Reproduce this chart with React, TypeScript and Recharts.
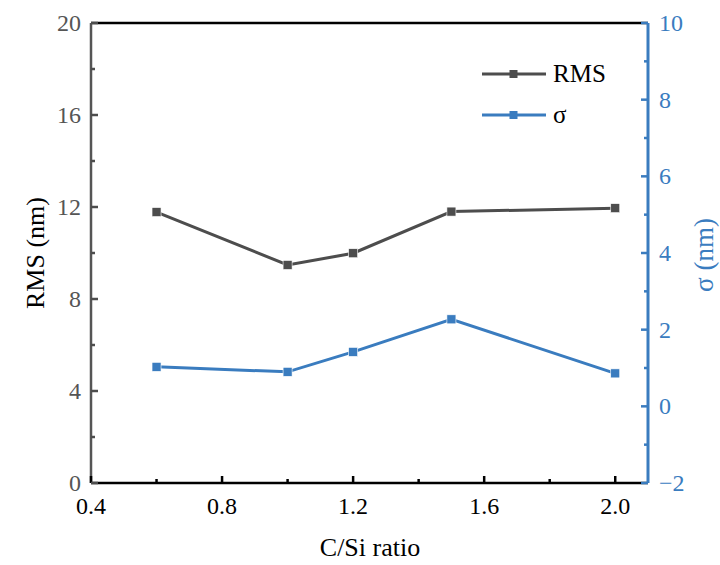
import { Label, Legend, Line, LineChart, ReferenceLine, XAxis, YAxis } from 'recharts'

// C/Si ratio values
const ratios = [0.6, 1.0, 1.2, 1.5, 2.0]
// RMS roughness (nm), left axis
const rms = [11.78, 9.48, 9.99, 11.8, 11.95]
// sigma (nm), right axis
const sigma = [1.03, 0.9, 1.42, 2.27, 0.86]

// tick values (majors get a label, the rest are minor ticks)
const xTicks = [0.4, 0.6, 0.8, 1.0, 1.2, 1.4, 1.6, 1.8, 2.0]
const leftTicks = [0, 2, 4, 6, 8, 10, 12, 14, 16, 18, 20]
const rightTicks = [-2, -1, 0, 1, 2, 3, 4, 5, 6, 7, 8, 9, 10]

const data = ratios.map((r, i) => ({ ratio: r, rms: rms[i], sigma: sigma[i] }))

const FONT = 'Liberation Serif'
const GRAY = '#4d4d4d'
const BLUE = '#3a7cbf'
const txt = (size: number) => ({ fontFamily: FONT, fontSize: size })

const isMajor = (v: number, step: number) => Math.abs(v / step - Math.round(v / step)) < 1e-6

const LeftTick = (p: any) => {
  const v = p.payload.value
  const major = isMajor(v, 4)
  return (
    <g>
      <line x1={p.x} y1={p.y} x2={p.x + (major ? 7 : 4)} y2={p.y} stroke={GRAY} strokeWidth={2.5} />
      {major && (
        <text x={p.x - 10} y={p.y + 8} textAnchor='end' fill='#555' style={txt(24)}>
          {v}
        </text>
      )}
    </g>
  )
}

const RightTick = (p: any) => {
  const v = p.payload.value
  const major = isMajor(v, 2)
  return (
    <g>
      <line x1={p.x} y1={p.y} x2={p.x - (major ? 7 : 4)} y2={p.y} stroke={BLUE} strokeWidth={2.5} />
      {major && (
        <text x={p.x + 11} y={p.y + 8} textAnchor='start' fill={BLUE} style={txt(24)}>
          {v < 0 ? `\u2212${Math.abs(v)}` : v}
        </text>
      )}
    </g>
  )
}

const BottomTick = (p: any) => {
  const v = p.payload.value
  const major = isMajor(v, 0.4)
  return (
    <g>
      <line x1={p.x} y1={p.y} x2={p.x} y2={p.y - (major ? 7 : 4)} stroke='#000' strokeWidth={2.5} />
      {major && (
        <text x={p.x} y={p.y + 31} textAnchor='middle' fill='#000' style={txt(24)}>
          {v.toFixed(1)}
        </text>
      )}
    </g>
  )
}

const squareDot = (color: string) => (p: any) => (
  <rect key={`dot-${p.index}`} x={p.cx - 4.5} y={p.cy - 4.5} width={9} height={9} fill={color} stroke='#fff' strokeWidth={0.6} />
)

const renderLegend = (props: any) => (
  <div style={txt(25)}>
    {props.payload.map((e: any, i: number) => (
      <div key={`leg-${i}`} style={{ display: 'flex', alignItems: 'center', height: 41 }}>
        <svg width={66} height={12}>
          <line x1={1} y1={6} x2={65} y2={6} stroke={e.color} strokeWidth={3} />
          <rect x={28.5} y={2} width={8} height={8} fill={e.color} />
        </svg>
        <span style={{ marginLeft: 6, color: '#000', fontFamily: FONT }}>{e.value}</span>
      </div>
    ))}
  </div>
)

export default function App() {
  return (
    <div style={{ position: 'absolute', left: 0, top: 0, background: '#fff', fontFamily: FONT }}>
      <LineChart width={720} height={565} data={data} margin={{ top: 23, right: 0, bottom: 0, left: 0 }}>
        <XAxis
          dataKey='ratio'
          type='number'
          domain={[0.4, 2.1]}
          ticks={xTicks}
          interval={0}
          height={82}
          tickSize={0}
          tickMargin={0}
          tickLine={false}
          tick={BottomTick}
          axisLine={{ stroke: '#000', strokeWidth: 2.5 }}
        >
          <Label
            content={() => (
              <text x={370} y={556} textAnchor='middle' fill='#000' style={txt(26)}>
                C/Si ratio
              </text>
            )}
          />
        </XAxis>
        <YAxis
          yAxisId='left'
          orientation='left'
          domain={[0, 20]}
          ticks={leftTicks}
          interval={0}
          width={91}
          tickSize={0}
          tickMargin={0}
          tickLine={false}
          tick={LeftTick}
          axisLine={{ stroke: '#555', strokeWidth: 2.5 }}
        >
          <Label
            content={() => (
              <text x={44} y={253} transform='rotate(-90 44 253)' textAnchor='middle' fill='#000' style={txt(26)}>
                RMS (nm)
              </text>
            )}
          />
        </YAxis>
        <YAxis
          yAxisId='right'
          orientation='right'
          domain={[-2, 10]}
          ticks={rightTicks}
          interval={0}
          width={72}
          tickSize={0}
          tickMargin={0}
          tickLine={false}
          tick={RightTick}
          axisLine={{ stroke: BLUE, strokeWidth: 3 }}
        >
          <Label
            content={() => (
              <text x={713} y={255} transform='rotate(-90 713 255)' textAnchor='middle' fill={BLUE} style={txt(27)}>
                σ (nm)
              </text>
            )}
          />
        </YAxis>
        <ReferenceLine yAxisId='left' y={20} stroke='#000' strokeWidth={2.5} />
        <Legend
          layout='vertical'
          align='center'
          verticalAlign='middle'
          content={renderLegend}
          wrapperStyle={{ position: 'absolute', left: 481, top: 53, width: 160 }}
        />
        <Line
          yAxisId='left'
          dataKey='rms'
          name='RMS'
          stroke={GRAY}
          strokeWidth={3}
          dot={squareDot(GRAY)}
          isAnimationActive={false}
        />
        <Line
          yAxisId='right'
          dataKey='sigma'
          name='σ'
          stroke={BLUE}
          strokeWidth={3}
          dot={squareDot(BLUE)}
          isAnimationActive={false}
        />
      </LineChart>
    </div>
  )
}
